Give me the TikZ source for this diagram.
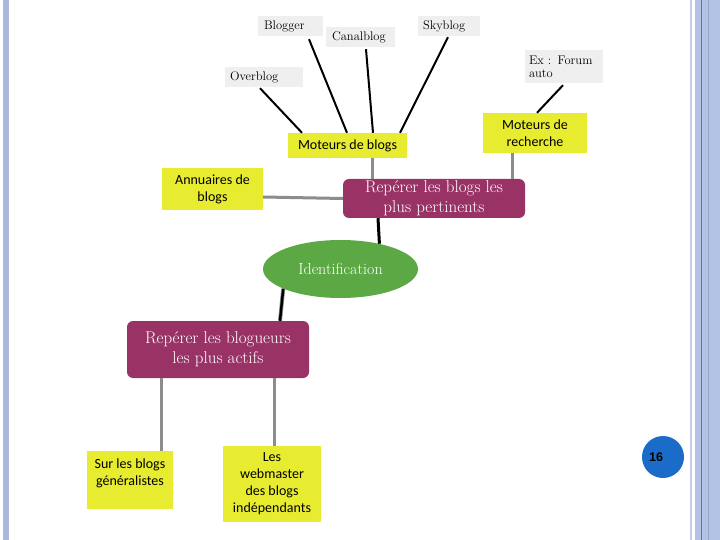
\documentclass[tikz,border=0pt]{standalone}
\usepackage{fontspec}
\newfontfamily\yfont{Carlito}
\newfontfamily\nfont{Liberation Sans}
\usetikzlibrary{shapes.geometric,calc}
\definecolor{ybox}{HTML}{E8EC30}
\definecolor{gbox}{HTML}{EFEFEF}
\definecolor{maroon}{HTML}{993366}
\definecolor{idgreen}{HTML}{5BA845}
\definecolor{conngray}{HTML}{8C8C8C}
\definecolor{barblue}{HTML}{AAB8DA}
\definecolor{bandblue}{HTML}{B3C3E5}
\definecolor{darkline}{HTML}{4C78C8}
\definecolor{numblue}{HTML}{1A6CC8}
\tikzset{
  graylabel/.style={fill=gbox, inner ysep=0pt, align=left, font=\fontsize{12.5}{13}\selectfont},
  yellowbox/.style={fill=ybox, inner sep=0pt, align=center, font=\yfont\fontsize{14}{17}\selectfont},
  maroonbox/.style={fill=maroon, rounded corners=6pt, inner sep=0pt, align=center, text=white, font=\fontsize{17}{20}\selectfont},
  blk/.style={draw=black, line width=2pt},
  gry/.style={draw=conngray, line width=3pt},
}
\begin{document}
\begin{tikzpicture}[x=1pt,y=-1pt]
\useasboundingbox (0,0) rectangle (720,540);
\fill[white] (0,0) rectangle (720,540);
% borders
\fill[barblue] (3,0) rectangle (9,540);
\fill[bandblue!80!white] (690,0) rectangle (692,540);
\fill[bandblue] (695,0) rectangle (720,540);
\fill[darkline] (701.2,0) rectangle (702.4,540);
\fill[barblue!90!black] (707.8,0) rectangle (708.8,540);

% gray labels
\node[graylabel, inner xsep=6pt, text width=53pt, minimum height=20pt] (bl) at (290.5,26) {Blogger};
\node[graylabel, inner xsep=6pt, text width=57pt, minimum height=20pt] (cb) at (360.5,37) {Canalblog};
\node[graylabel, inner xsep=5pt, text width=52pt, minimum height=20pt] (sb) at (449,26) {Skyblog};
\node[graylabel, inner xsep=5pt, text width=68pt, minimum height=20pt] (ob) at (264,77) {Overblog};
\node[graylabel, inner xsep=4pt, text width=70pt, minimum height=33pt] (ex) at (564,66.5) {Ex : Forum\\auto};

% yellow boxes
\node[yellowbox, minimum width=119pt, minimum height=25pt] (mb) at (347.5,145.5) {Moteurs de blogs};
\node[yellowbox, minimum width=104pt, minimum height=40pt] (mr) at (535,133) {Moteurs de\\recherche};
\node[yellowbox, minimum width=101pt, minimum height=42pt] (an) at (212.5,189) {Annuaires de\\blogs};
\node[yellowbox] (sg) at (130,480) {\parbox[c][58pt][t]{86pt}{\centering\vspace*{8pt}Sur les blogs\\ généralistes}};
\node[yellowbox, minimum width=98pt, minimum height=76pt] (wm) at (272,484) {Les\\webmaster\\des blogs\\indépendants};

% maroon boxes
\node[maroonbox, minimum width=182pt, minimum height=39pt] (rp1) at (434,198.5) {Repérer les blogs les\\plus pertinents};
\node[maroonbox, minimum width=182pt, minimum height=57pt] (rp2) at (218,349.5) {Repérer les blogueurs\\les plus actifs};

% ellipse
\node[ellipse, fill=idgreen, inner sep=0pt, minimum width=155pt, minimum height=58pt, text=white, font=\fontsize{16}{18}\selectfont] (id) at (340.5,269) {Identification};

% page number
\node[circle, fill=numblue, inner sep=0pt, minimum size=42pt, font=\nfont\bfseries\fontsize{12.5}{14}\selectfont] (num) at (663,457) {16\hspace*{14pt}};

% black connectors to Moteurs de blogs
\draw[blk] ([xshift=-4pt,yshift=-1pt]ob.south) -- ([xshift=-45.5pt]mb.north);
\draw[blk] ([xshift=18.5pt,yshift=-3pt]bl.south) -- ([xshift=-0.5pt]mb.north);
\draw[blk] ([xshift=5.5pt,yshift=-2pt]cb.south) -- ([xshift=25.5pt]mb.north);
\draw[blk] ([xshift=-1pt,yshift=-1pt]sb.south) -- ([xshift=52.5pt]mb.north);
\draw[blk] ([xshift=-1pt,yshift=-2pt]ex.south) -- ([xshift=2pt]mr.north);

% gray connectors to rp1
\draw[gry] ([xshift=24.5pt]mb.south) -- ([xshift=24.5pt]mb.south |- rp1.north);
\draw[gry] ([xshift=-23pt]mr.south) -- ([xshift=-23pt]mr.south |- rp1.north);
\draw[gry] ([yshift=-8pt]an.east) -- (rp1.west);

% rp1 to identification
\draw[draw=black, line width=3pt] ([xshift=-56pt]rp1.south) -- (id.33);
% identification to rp2
\draw[draw=conngray, line width=4pt] (id.199) -- ([xshift=62pt]rp2.north);
\draw[draw=black, line width=2.5pt] (id.199) -- ([xshift=62pt]rp2.north);

% rp2 to bottom boxes
\draw[gry] ([xshift=-57pt]rp2.south) -- ([xshift=-57pt]rp2.south |- sg.north);
\draw[gry] ([xshift=56pt]rp2.south) -- ([xshift=56pt]rp2.south |- wm.north);
\end{tikzpicture}
\end{document}
